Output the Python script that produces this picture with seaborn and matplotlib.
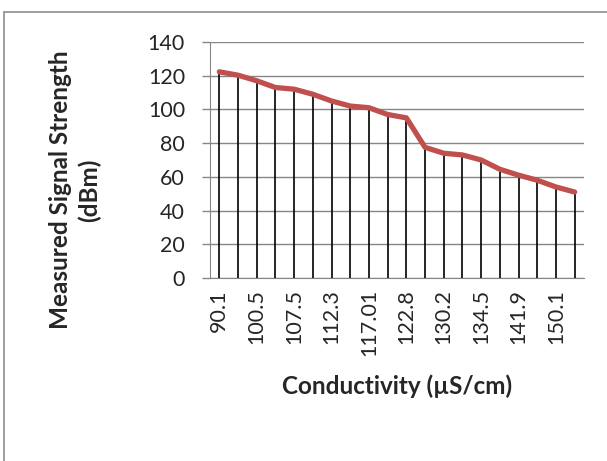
import matplotlib
matplotlib.use("Agg")
import matplotlib.pyplot as plt
import seaborn as sns
import pandas as pd
from matplotlib.patches import Rectangle

# conductivity categories (only every other one is labelled in the chart)
conductivity = ["90.1", "95.3", "100.5", "104.2", "107.5", "110.1", "112.3", "114.6",
                "117.01", "120.4", "122.8", "126.5", "130.2", "132.1", "134.5", "138.2",
                "141.9", "145.6", "150.1", "153.4"]
signal = [122.3, 120.3, 117.0, 113.0, 112.0, 109.0, 105.0, 102.0, 101.0, 97.0,
          95.0, 77.5, 74.0, 73.0, 70.0, 64.5, 61.0, 58.0, 54.0, 51.0]
y_ticks = [0, 20, 40, 60, 80, 100, 120, 140]

df = pd.DataFrame({"pos": range(len(conductivity)), "cond": conductivity, "signal": signal})

sns.set_style("white")
plt.rcParams["font.family"] = ["Lato", "DejaVu Sans"]

W, H = 607, 461
fig = plt.figure(figsize=(W / 100, H / 100), dpi=100)
ax = fig.add_axes([210 / W, 1 - 278 / H, 374 / W, 236 / H])

grid_col = "#868686"

# drop lines from axis to each point
ax.vlines(df["pos"], 0, df["signal"], color="black", lw=1.2, zorder=2)
sns.lineplot(data=df, x="pos", y="signal", ax=ax, color="#C0504D", lw=3.8,
             solid_capstyle="round", zorder=3)

ax.set_xlim(-0.5, len(conductivity) - 0.5)
ax.set_ylim(0, 140)
ax.set_yticks(y_ticks)
ax.set_yticklabels([str(v) for v in y_ticks], fontsize=15.5)
ax.yaxis.grid(True, color=grid_col, lw=1)
ax.set_axisbelow(True)

ax.set_xticks(df["pos"][::2])
ax.set_xticklabels(df["cond"][::2], rotation=90, fontsize=15.5)
ax.tick_params(axis="x", length=0, pad=8)
ax.tick_params(axis="y", length=6, color=grid_col, width=1, pad=12, left=True)

for side in ["top", "right"]:
    ax.spines[side].set_visible(False)
ax.spines["left"].set_color(grid_col)
ax.spines["bottom"].set_color(grid_col)
ax.set_xlabel("")
ax.set_ylabel("")

fig.text(75 / W, 1 - 190 / H, "Measured Signal Strength\n(dBm)", rotation=90,
         ha="center", va="center", multialignment="center",
         fontsize=17.5, fontweight="bold", linespacing=1.3)
fig.text(397 / W, 1 - 386 / H, "Conductivity (µS/cm)", ha="center", va="center",
         fontsize=17.5, fontweight="bold")

# chart area border (left and top edges visible)
fig.patches.append(Rectangle((4 / W, -0.05), 1.0, 1.05 - 12 / H, transform=fig.transFigure,
                             fill=False, edgecolor="#8c8c8c", lw=1.2))

fig.savefig("out.png", dpi=100)
